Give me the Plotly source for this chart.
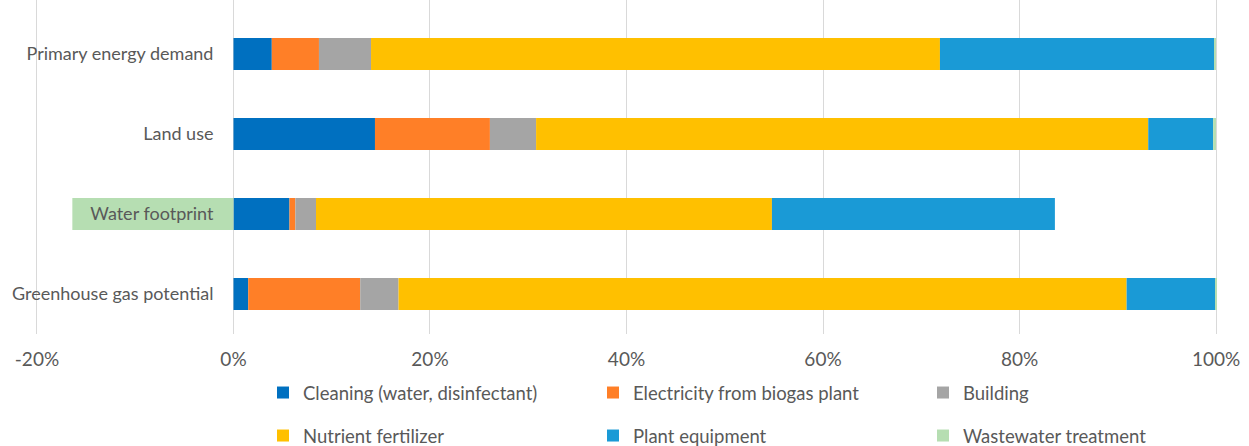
import plotly.graph_objects as go

categories = ["Greenhouse gas potential", "Water footprint", "Land use", "Primary energy demand"]

cleaning = [0.015, 0.057, 0.144, 0.039]
electricity = [0.114, 0.006, 0.117, 0.048]
building = [0.039, 0.021, 0.047, 0.053]
nutrient = [0.741, 0.464, 0.623, 0.579]
plant_equipment = [0.090, 0.288, 0.066, 0.279]
wastewater = [0.001, -0.164, 0.003, 0.002]

series_names = ["Cleaning (water, disinfectant)", "Electricity from biogas plant", "Building",
                "Nutrient fertilizer", "Plant equipment", "Wastewater treatment"]
series_values = [cleaning, electricity, building, nutrient, plant_equipment, wastewater]
colors = ["#0070C0", "#FF7F27", "#A5A5A5", "#FFC000", "#1A9AD6", "#B6DEB2"]
legend_ids = ["legend", "legend", "legend", "legend2", "legend2", "legend2"]

tick_vals = [-0.2, 0, 0.2, 0.4, 0.6, 0.8, 1.0]
tick_text = ["-20%", "0%", "20%", "40%", "60%", "80%", "100%"]

FONT = "Lato"
TXT = "#595959"

fig = go.Figure()
for name, vals, col, lg in zip(series_names, series_values, colors, legend_ids):
    fig.add_trace(go.Bar(
        y=categories, x=vals, name=name, orientation="h",
        marker=dict(color=col, line=dict(width=0)),
        legend=lg,
    ))

x_lo, x_hi = -0.202, 1.002
ml, mr = 35, 31
plot_w = 1249 - ml - mr
leg_x = (263 - ml) / plot_w
plot_h = 334.0
zero_frac = (0 - x_lo) / (x_hi - x_lo)

fig.update_layout(
    barmode="relative",
    bargap=0.6,
    width=1249, height=446,
    margin=dict(l=ml, r=mr, t=0, b=112, autoexpand=False),
    plot_bgcolor="white", paper_bgcolor="white",
    font=dict(family=FONT, color=TXT, size=18),
    xaxis=dict(
        range=[x_lo, x_hi], tickvals=tick_vals, ticktext=tick_text,
        showgrid=True, gridcolor="#D9D9D9", gridwidth=1,
        zeroline=True, zerolinecolor="#D9D9D9", zerolinewidth=1,
        showline=False, ticks="", ticklabelstandoff=12,
        tickfont=dict(size=19, color=TXT, family=FONT),
    ),
    yaxis=dict(
        categoryorder="array", categoryarray=categories,
        range=[-0.5, 3.675],
        anchor="free", position=zero_frac,
        showgrid=False, zeroline=False, showline=False, ticks="",
        ticklabelstandoff=20,
        tickfont=dict(size=18, color=TXT, family=FONT),
    ),
    legend=dict(orientation="h", x=leg_x, xref="paper",
                y=-(393 - plot_h) / plot_h, yref="paper", yanchor="middle", xanchor="left",
                entrywidth=285, entrywidthmode="pixels", traceorder="normal",
                font=dict(size=18.5, color=TXT, family=FONT), bgcolor="rgba(0,0,0,0)"),
    legend2=dict(orientation="h", x=leg_x, xref="paper",
                 y=-(436 - plot_h) / plot_h, yref="paper", yanchor="middle", xanchor="left",
                 entrywidth=285, entrywidthmode="pixels", traceorder="normal",
                 font=dict(size=18.5, color=TXT, family=FONT), bgcolor="rgba(0,0,0,0)"),
    showlegend=True,
)

fig.write_html("out.html", config={"displayModeBar": False},
               post_script="document.body.style.margin='0';document.body.style.padding='0';")
